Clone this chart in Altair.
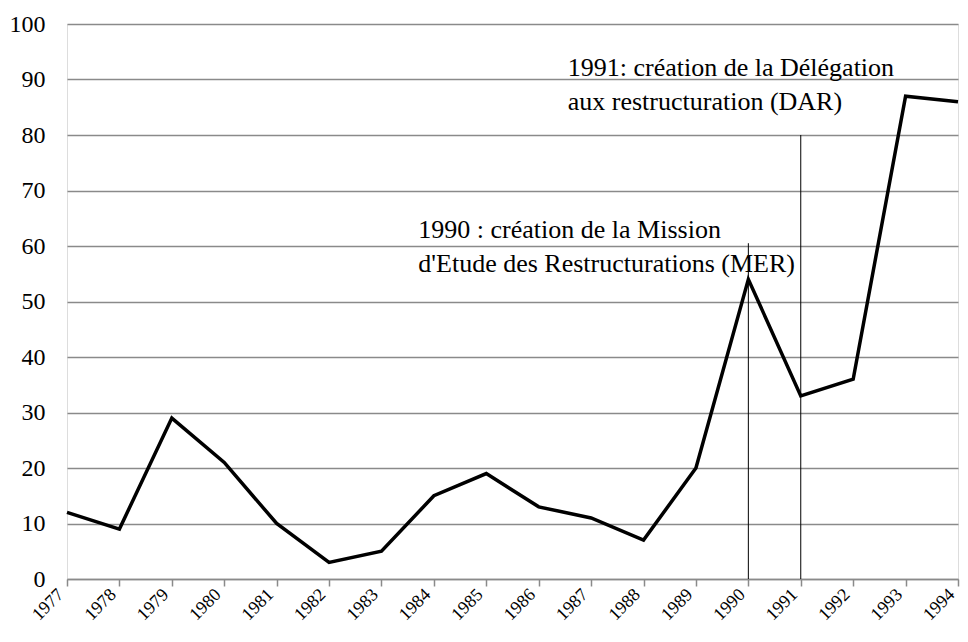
import altair as alt
import pandas as pd

years = list(range(1977, 1995))
values = [12, 9, 29, 21, 10, 3, 5, 15, 19, 13, 11, 7, 20, 54, 33, 36, 87, 86]

event_years = [1990, 1991]
event_tops = [60.5, 80]
event_labels = [
    "1990 : création de la Mission\nd'Etude des Restructurations (MER)",
    "1991: création de la Délégation\naux restructuration (DAR)",
]

df = pd.DataFrame({"year": years, "value": values})
ev = pd.DataFrame({"year": event_years, "top": event_tops, "zero": [0, 0], "label": event_labels})

FONT = "Liberation Serif"
GRID = "#8a8a8a"

x = alt.X(
    "year:Q",
    scale=alt.Scale(domain=[1977, 1994], nice=False, zero=False),
    axis=alt.Axis(
        values=years, format="d", title=None, labelAngle=-45, grid=False,
        labelAlign="right", labelBaseline="bottom",
        labelFont=FONT, labelFontSize=18, labelColor="black",
        domainColor=GRID, domainWidth=1.5, tickColor=GRID, tickWidth=1.5, tickSize=7,
        labelPadding=12, labelFlush=False, labelOverlap=False, labelBound=False,
    ),
)
y = alt.Y(
    "value:Q",
    scale=alt.Scale(domain=[0, 100], nice=False),
    axis=alt.Axis(
        values=list(range(0, 101, 10)), title=None, grid=True, gridColor=GRID, gridWidth=1.5,
        domain=False, ticks=False, tickSize=0, labelPadding=22,
        labelFont=FONT, labelFontSize=24, labelColor="black",
    ),
)

line = alt.Chart(df).mark_line(color="black", strokeWidth=3.5, strokeJoin="miter").encode(x=x, y=y)

rules = alt.Chart(ev).mark_rule(color="black", strokeWidth=1).encode(
    x=alt.X("year:Q"), y=alt.Y("zero:Q"), y2=alt.Y2("top:Q")
)

txt_common = dict(align="left", baseline="alphabetic", font=FONT, fontSize=26,
                  color="black", lineBreak="\n", lineHeight=34)
t1 = alt.Chart(ev).transform_filter(alt.datum.year == 1990).mark_text(
    dx=-330, dy=-5, **txt_common
).encode(x=alt.X("year:Q"), y=alt.Y("top:Q"), text="label:N")
t2 = alt.Chart(ev).transform_filter(alt.datum.year == 1991).mark_text(
    dx=-233, dy=-59, **txt_common
).encode(x=alt.X("year:Q"), y=alt.Y("top:Q"), text="label:N")

chart = alt.layer(line, rules, t1, t2).properties(
    width=891, height=555,
    padding={"left": 59, "top": 16, "right": 2, "bottom": 49},
    autosize=alt.AutoSizeParams(type="none"),
).configure_view(stroke=None).configure_axis(
    labelFont=FONT, labelColor="black"
).configure(background="white")

chart.save("out.html", embed_options={"renderer": "svg", "actions": False})
